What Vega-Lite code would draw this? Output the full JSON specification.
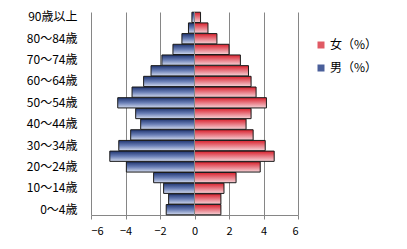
{
  "$schema": "https://vega.github.io/schema/vega-lite/v6.json",
  "autosize": "none",
  "width": 207,
  "height": 203,
  "padding": {"left": 91, "top": 12, "right": 109, "bottom": 34},
  "background": "white",
  "config": {
    "font": "Noto Sans CJK JP",
    "view": {"stroke": null}
  },
  "data": {
    "values": [
      {"age": "0～4歳", "sex": "男（%）", "value": -1.64},
      {"age": "5～9歳", "sex": "男（%）", "value": -1.50},
      {"age": "10～14歳", "sex": "男（%）", "value": -1.79},
      {"age": "15～19歳", "sex": "男（%）", "value": -2.37},
      {"age": "20～24歳", "sex": "男（%）", "value": -3.95},
      {"age": "25～29歳", "sex": "男（%）", "value": -4.91},
      {"age": "30～34歳", "sex": "男（%）", "value": -4.39},
      {"age": "35～39歳", "sex": "男（%）", "value": -3.70},
      {"age": "40～44歳", "sex": "男（%）", "value": -3.12},
      {"age": "45～49歳", "sex": "男（%）", "value": -3.41},
      {"age": "50～54歳", "sex": "男（%）", "value": -4.45},
      {"age": "55～59歳", "sex": "男（%）", "value": -3.62},
      {"age": "60～64歳", "sex": "男（%）", "value": -2.95},
      {"age": "65～69歳", "sex": "男（%）", "value": -2.52},
      {"age": "70～74歳", "sex": "男（%）", "value": -1.89},
      {"age": "75～79歳", "sex": "男（%）", "value": -1.25},
      {"age": "80～84歳", "sex": "男（%）", "value": -0.73},
      {"age": "85～89歳", "sex": "男（%）", "value": -0.35},
      {"age": "90歳以上", "sex": "男（%）", "value": -0.15},
      {"age": "0～4歳", "sex": "女（%）", "value": 1.53},
      {"age": "5～9歳", "sex": "女（%）", "value": 1.53},
      {"age": "10～14歳", "sex": "女（%）", "value": 1.71},
      {"age": "15～19歳", "sex": "女（%）", "value": 2.41},
      {"age": "20～24歳", "sex": "女（%）", "value": 3.81},
      {"age": "25～29歳", "sex": "女（%）", "value": 4.62},
      {"age": "30～34歳", "sex": "女（%）", "value": 4.10},
      {"age": "35～39歳", "sex": "女（%）", "value": 3.40},
      {"age": "40～44歳", "sex": "女（%）", "value": 2.99},
      {"age": "45～49歳", "sex": "女（%）", "value": 3.28},
      {"age": "50～54歳", "sex": "女（%）", "value": 4.17},
      {"age": "55～59歳", "sex": "女（%）", "value": 3.57},
      {"age": "60～64歳", "sex": "女（%）", "value": 3.28},
      {"age": "65～69歳", "sex": "女（%）", "value": 3.13},
      {"age": "70～74歳", "sex": "女（%）", "value": 2.66},
      {"age": "75～79歳", "sex": "女（%）", "value": 2.00},
      {"age": "80～84歳", "sex": "女（%）", "value": 1.30},
      {"age": "85～89歳", "sex": "女（%）", "value": 0.78},
      {"age": "90歳以上", "sex": "女（%）", "value": 0.35}
    ]
  },
  "encoding": {
    "y": {
      "field": "age",
      "type": "nominal",
      "sort": ["90歳以上","85～89歳","80～84歳","75～79歳","70～74歳","65～69歳","60～64歳","55～59歳","50～54歳","45～49歳","40～44歳","35～39歳","30～34歳","25～29歳","20～24歳","15～19歳","10～14歳","5～9歳","0～4歳"],
      "scale": {"paddingInner": 0.04, "paddingOuter": 0.02},
      "axis": {
        "title": null,
        "values": ["90歳以上","80～84歳","70～74歳","60～64歳","50～54歳","40～44歳","30～34歳","20～24歳","10～14歳","0～4歳"],
        "domain": false,
        "ticks": false,
        "labelPadding": 14,
        "labelFontSize": 12,
        "labelColor": "#000000",
        "labelFont": "Noto Sans CJK JP"
      }
    },
    "x": {
      "field": "value",
      "type": "quantitative",
      "scale": {"domain": [-6, 6], "nice": false},
      "axis": {
        "title": null,
        "values": [-6, -4, -2, 0, 2, 4, 6],
        "grid": true,
        "gridColor": "#868686",
        "gridOpacity": 1,
        "domainColor": "#868686",
        "tickColor": "#868686",
        "tickSize": 4,
        "labelPadding": 6,
        "labelFontSize": 11,
        "labelColor": "#000000",
        "labelFont": "Noto Sans CJK JP"
      }
    }
  },
  "layer": [
    {
      "transform": [{"filter": "datum.sex === '男（%）'"}],
      "mark": {
        "type": "bar", "stroke": "#1a1a1a", "strokeWidth": 1,
        "fill": {"gradient": "linear", "x1": 0, "y1": 0, "x2": 0, "y2": 1, "stops": [{"offset": 0, "color": "#1f3470"}, {"offset": 0.5, "color": "#6a7fb6"}, {"offset": 1, "color": "#d2daee"}]}
      }
    },
    {
      "transform": [{"filter": "datum.sex === '女（%）'"}],
      "mark": {
        "type": "bar", "stroke": "#1a1a1a", "strokeWidth": 1,
        "fill": {"gradient": "linear", "x1": 0, "y1": 0, "x2": 0, "y2": 1, "stops": [{"offset": 0, "color": "#d8202c"}, {"offset": 0.5, "color": "#e87a84"}, {"offset": 1, "color": "#f6d4d8"}]}
      }
    },
    {
      "mark": {"type": "square", "filled": true, "opacity": 0},
      "encoding": {
        "color": {
          "field": "sex",
          "type": "nominal",
          "scale": {"domain": ["女（%）", "男（%）"], "range": ["#e05a64", "#4a5f9a"]},
          "legend": {
            "title": null,
            "orient": "none",
            "legendX": 224,
            "legendY": 27,
            "symbolType": "square",
            "symbolSize": 49,
            "symbolOpacity": 1,
            "symbolStrokeColor": "#333333",
            "symbolStrokeWidth": 1,
            "labelFontSize": 12,
            "labelColor": "#000000",
            "labelFont": "Noto Sans CJK JP",
            "labelOffset": 3,
            "rowPadding": 11,
            "encode": {
              "symbols": {
                "update": {
                  "opacity": {"value": 1},
                  "fill": {"signal": "datum.value === '女（%）' ? {gradient: 'linear', x1: 0, y1: 0, x2: 0, y2: 1, stops: [{offset: 0, color: '#d8202c'}, {offset: 1, color: '#f6d4d8'}]} : {gradient: 'linear', x1: 0, y1: 0, x2: 0, y2: 1, stops: [{offset: 0, color: '#1f3470'}, {offset: 1, color: '#d2daee'}]}"}
                }
              }
            }
          }
        }
      }
    },
    {
      "mark": {"type": "rule", "color": "#868686", "strokeWidth": 1},
      "encoding": {"x": {"datum": 0}, "y": null}
    }
  ]
}
